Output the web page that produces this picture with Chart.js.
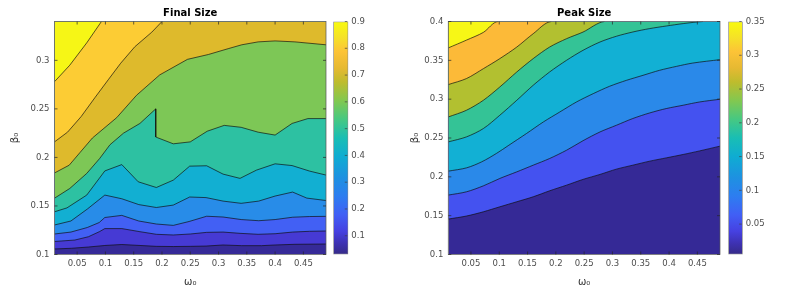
<!DOCTYPE html>
<html>
<head>
<meta charset="utf-8">
<script src="https://cdn.jsdelivr.net/npm/chart.js@4.4.1/dist/chart.umd.min.js"></script>
<style>
  body { margin: 0; background: #fff; }
  #wrap { position: relative; width: 806px; height: 291px; }
  canvas { position: absolute; top: 0; }
</style>
</head>
<body>
<div id="wrap">
  <canvas id="fs" width="330" height="291" style="left:0px"></canvas>
  <canvas id="fsBar" width="45" height="291" style="left:330px"></canvas>
  <canvas id="ps" width="326" height="291" style="left:400px"></canvas>
  <canvas id="psBar" width="60" height="291" style="left:726px"></canvas>
</div>
<script>
// ---------- Final Size : contour lines (omega0, beta0), levels 0.1 .. 0.9 ----------
var finalLevels = [0.1, 0.2, 0.3, 0.4, 0.5, 0.6, 0.7, 0.8, 0.9];
var finalXTicks = [0.05, 0.1, 0.15, 0.2, 0.25, 0.3, 0.35, 0.4, 0.45];
var finalYTicks = [0.1, 0.15, 0.2, 0.25, 0.3];
var finalBarTicks = [0.1, 0.2, 0.3, 0.4, 0.5, 0.6, 0.7, 0.8, 0.9];

var final01 = [[0.01,0.1057],[0.04,0.1064],[0.07,0.1077],[0.099,0.1093],[0.129,0.1103],[0.161,0.1093],[0.19,0.1084],[0.22,0.1082],[0.25,0.1084],[0.278,0.1087],[0.308,0.1098],[0.341,0.1091],[0.376,0.1091],[0.40,0.1098],[0.435,0.1105],[0.49,0.1108]];
var final02 = [[0.01,0.1134],[0.046,0.1149],[0.07,0.1183],[0.09,0.1237],[0.099,0.1267],[0.129,0.1267],[0.161,0.1235],[0.19,0.1208],[0.22,0.1201],[0.25,0.1211],[0.279,0.1228],[0.308,0.1231],[0.338,0.1218],[0.37,0.1208],[0.40,0.1214],[0.431,0.1231],[0.461,0.1239],[0.49,0.1242]];
var final03 = [[0.01,0.1211],[0.039,0.1231],[0.068,0.1278],[0.089,0.1329],[0.099,0.1381],[0.129,0.1403],[0.159,0.1345],[0.19,0.1314],[0.22,0.13],[0.248,0.134],[0.279,0.1394],[0.308,0.1386],[0.34,0.136],[0.371,0.1348],[0.40,0.136],[0.431,0.1384],[0.461,0.1391],[0.49,0.1393]];
var final04 = [[0.01,0.1304],[0.039,0.1345],[0.068,0.1468],[0.099,0.1612],[0.129,0.1574],[0.159,0.1514],[0.19,0.1484],[0.22,0.1509],[0.249,0.1592],[0.278,0.1586],[0.308,0.155],[0.34,0.1527],[0.371,0.155],[0.40,0.1602],[0.431,0.1643],[0.456,0.1581],[0.49,0.1556]];
var final05 = [[0.01,0.144],[0.032,0.148],[0.067,0.1612],[0.099,0.1861],[0.129,0.1926],[0.158,0.1749],[0.19,0.169],[0.22,0.1766],[0.249,0.191],[0.279,0.1914],[0.308,0.1828],[0.338,0.1784],[0.367,0.1869],[0.40,0.1934],[0.43,0.1916],[0.461,0.1859],[0.49,0.1818]];
var final06 = [[0.01,0.158],[0.037,0.168],[0.067,0.1835],[0.09,0.199],[0.108,0.213],[0.132,0.225],[0.161,0.235],[0.189,0.25],[0.189,0.221],[0.22,0.214],[0.25,0.216],[0.28,0.227],[0.31,0.233],[0.34,0.231],[0.37,0.226],[0.40,0.223],[0.43,0.235],[0.458,0.24],[0.49,0.24]];
var final07 = [[0.01,0.184],[0.036,0.192],[0.055,0.205],[0.077,0.22],[0.12,0.241],[0.155,0.264],[0.196,0.285],[0.245,0.301],[0.282,0.306],[0.317,0.312],[0.341,0.316],[0.37,0.319],[0.40,0.320],[0.435,0.319],[0.49,0.316]];
var final08 = [[0.01,0.216],[0.033,0.226],[0.057,0.242],[0.082,0.262],[0.105,0.28],[0.127,0.297],[0.152,0.314],[0.182,0.329],[0.2,0.34],[0.49,0.34]];
var final09 = [[0.01,0.278],[0.037,0.295],[0.067,0.318],[0.093,0.34],[0.49,0.34]];

// ---------- Peak Size : contour lines ----------
var peakXTicks = [0.05, 0.1, 0.15, 0.2, 0.25, 0.3, 0.35, 0.4, 0.45];
var peakYTicks = [0.1, 0.15, 0.2, 0.25, 0.3, 0.35, 0.4];
var peakBarTicks = [0.05, 0.1, 0.15, 0.2, 0.25, 0.3, 0.35];

var peak1 = [[0.01,0.1456],[0.042,0.1495],[0.072,0.155],[0.101,0.1614],[0.131,0.1679],[0.16,0.1743],[0.189,0.182],[0.219,0.1893],[0.248,0.1967],[0.278,0.2031],[0.307,0.2099],[0.336,0.215],[0.366,0.2202],[0.395,0.2244],[0.425,0.2288],[0.454,0.2334],[0.49,0.2395]];
var peak2 = [[0.01,0.1765],[0.042,0.1807],[0.072,0.1884],[0.101,0.1979],[0.131,0.2064],[0.16,0.215],[0.189,0.2236],[0.219,0.2343],[0.248,0.2465],[0.278,0.2578],[0.307,0.2664],[0.336,0.2751],[0.366,0.2823],[0.395,0.2879],[0.425,0.2922],[0.454,0.2964],[0.49,0.2999]];
var peak3 = [[0.01,0.2073],[0.0425,0.2116],[0.069,0.2193],[0.095,0.2301],[0.117,0.2407],[0.148,0.2557],[0.178,0.2707],[0.207,0.2835],[0.2365,0.2964],[0.266,0.3071],[0.295,0.3166],[0.325,0.3243],[0.354,0.3307],[0.383,0.3371],[0.413,0.3422],[0.442,0.3465],[0.49,0.3509]];
var peak4 = [[0.01,0.245],[0.042,0.2514],[0.072,0.2622],[0.101,0.2793],[0.131,0.2986],[0.16,0.3179],[0.189,0.335],[0.219,0.3501],[0.248,0.3629],[0.278,0.3736],[0.307,0.381],[0.336,0.3865],[0.366,0.3909],[0.395,0.3942],[0.425,0.3973],[0.46,0.4],[0.49,0.4]];
var peak5 = [[0.01,0.2771],[0.042,0.2857],[0.072,0.2986],[0.101,0.3157],[0.131,0.335],[0.16,0.3522],[0.189,0.3671],[0.219,0.3779],[0.248,0.3864],[0.286,0.4],[0.49,0.4]];
var peak6 = [[0.01,0.3188],[0.042,0.3265],[0.072,0.3393],[0.101,0.3522],[0.131,0.3671],[0.16,0.3843],[0.192,0.4],[0.49,0.4]];
var peak7 = [[0.01,0.366],[0.042,0.376],[0.072,0.386],[0.098,0.4],[0.49,0.4]];

// band fill colours, lowest band first
var finalColors = ['rgb(54,42,152)', 'rgb(70,58,212)', 'rgb(66,96,244)', 'rgb(40,140,232)', 'rgb(18,175,210)',
  'rgb(45,193,162)', 'rgb(125,199,86)', 'rgb(222,186,44)', 'rgb(252,204,52)', 'rgb(246,246,22)'];
var peakColors = ['rgb(53,41,150)', 'rgb(68,82,240)', 'rgb(42,137,233)', 'rgb(18,176,212)', 'rgb(52,195,150)',
  'rgb(178,192,48)', 'rgb(252,186,56)', 'rgb(247,247,22)'];

// parula-like colormap for the colorbars
var parulaStops = [
  [0.00, 'rgb(53,42,135)'], [0.05, 'rgb(62,50,180)'], [0.10, 'rgb(70,65,225)'], [0.17, 'rgb(65,95,245)'],
  [0.25, 'rgb(45,125,240)'], [0.33, 'rgb(30,145,225)'], [0.42, 'rgb(15,172,210)'], [0.50, 'rgb(25,190,180)'],
  [0.58, 'rgb(70,200,130)'], [0.66, 'rgb(130,200,80)'], [0.74, 'rgb(190,188,45)'], [0.80, 'rgb(230,185,50)'],
  [0.87, 'rgb(252,195,55)'], [0.93, 'rgb(245,225,40)'], [1.00, 'rgb(248,250,15)']
];

var FONT = 'DejaVu Sans';
var TICK_COLOR = '#4d4d4d';
var LINE_COLOR = 'rgba(15,15,15,0.85)';

function fmt(v) {
  return String(+v.toFixed(3));
}

function toPoints(arr) {
  return arr.map(function(p) { return {x: p[0], y: p[1]}; });
}

// axes box + inward tick marks, MATLAB style
var boxPlugin = {
  id: 'box',
  afterDraw: function(chart) {
    var a = chart.chartArea;
    var ctx = chart.ctx;
    var xs = chart.scales.x, ys = chart.scales.y;
    ctx.save();
    ctx.strokeStyle = 'rgba(90,90,90,0.9)';
    ctx.lineWidth = 0.8;
    ctx.strokeRect(a.left, a.top, a.right - a.left, a.bottom - a.top);
    ctx.strokeStyle = '#262626';
    ctx.lineWidth = 0.7;
    ctx.beginPath();
    xs.ticks.forEach(function(t) {
      var px = xs.getPixelForValue(t.value);
      ctx.moveTo(px, a.bottom); ctx.lineTo(px, a.bottom - 3);
      ctx.moveTo(px, a.top); ctx.lineTo(px, a.top + 3);
    });
    ys.ticks.forEach(function(t) {
      var py = ys.getPixelForValue(t.value);
      ctx.moveTo(a.left, py); ctx.lineTo(a.left + 3, py);
      ctx.moveTo(a.right, py); ctx.lineTo(a.right - 3, py);
    });
    ctx.stroke();
    ctx.restore();
  }
};

function contourChart(id, o) {
  var n = o.curves.length;
  var datasets = [{
    data: toPoints([[o.xMin, o.yMin], [o.xMax, o.yMin]]),
    fill: 'end',
    backgroundColor: o.colors[0],
    borderWidth: 0,
    pointRadius: 0,
    order: n + 1
  }];
  o.curves.forEach(function(curve, i) {
    datasets.push({
      data: toPoints(curve),
      fill: 'end',
      backgroundColor: o.colors[i + 1],
      borderColor: LINE_COLOR,
      borderWidth: 0.8,
      pointRadius: 0,
      tension: o.tension,
      order: n - i,
      segment: {
        // no contour line along the top edge of the axes
        borderColor: function(ctx) {
          return (ctx.p0.parsed.y >= o.yMax - 1e-9 && ctx.p1.parsed.y >= o.yMax - 1e-9) ? 'rgba(0,0,0,0)' : undefined;
        }
      }
    });
  });

  return new Chart(document.getElementById(id), {
    type: 'scatter',
    data: { datasets: datasets },
    plugins: [boxPlugin],
    options: {
      responsive: false,
      animation: false,
      events: [],
      devicePixelRatio: 1,
      showLine: true,
      layout: { padding: { left: 0, right: o.padRight, top: 0, bottom: 0 } },
      plugins: {
        legend: { display: false },
        tooltip: { enabled: false },
        title: {
          display: true,
          text: o.title,
          fullSize: false,
          color: '#000',
          font: { family: FONT, size: 10, weight: 'bold' },
          padding: { top: 7, bottom: 2.5 }
        }
      },
      scales: {
        x: {
          type: 'linear',
          min: o.xMin,
          max: o.xMax,
          afterBuildTicks: function(s) { s.ticks = o.xTicks.map(function(v) { return {value: v}; }); },
          afterFit: function(s) { s.height = 36.5; },
          grid: { display: false, drawTicks: false },
          border: { display: false },
          ticks: { padding: 4, color: TICK_COLOR, font: { family: FONT, size: 8.5 }, callback: fmt, autoSkip: false, maxRotation: 0 },
          title: { display: true, text: 'ω₀', color: '#333', font: { family: FONT, size: 10 }, padding: { top: 0, bottom: 3 } }
        },
        y: {
          type: 'linear',
          min: o.yMin,
          max: o.yMax,
          afterBuildTicks: function(s) { s.ticks = o.yTicks.map(function(v) { return {value: v}; }); },
          afterFit: function(s) { s.width = o.yAxisWidth; },
          grid: { display: false, drawTicks: false },
          border: { display: false },
          ticks: { padding: 5, color: TICK_COLOR, font: { family: FONT, size: 8.5 }, callback: fmt, autoSkip: false },
          title: { display: true, text: 'β₀', color: '#333', font: { family: FONT, size: 10 }, padding: { top: o.yTitleOffset, bottom: 0 } }
        }
      }
    }
  });
}

function colorBar(id, o) {
  return new Chart(document.getElementById(id), {
    type: 'bar',
    data: {
      labels: ['c'],
      datasets: [{
        data: [[o.min, o.max]],
        backgroundColor: function(ctx) {
          var a = ctx.chart.chartArea;
          if (!a) return null;
          var g = ctx.chart.ctx.createLinearGradient(0, a.bottom, 0, a.top);
          parulaStops.forEach(function(s) { g.addColorStop(s[0], s[1]); });
          return g;
        },
        borderColor: '#8c8c8c',
        borderWidth: 1,
        borderSkipped: false,
        barPercentage: 1,
        categoryPercentage: 1
      }]
    },
    plugins: [{
      id: 'barTicks',
      afterDraw: function(chart) {
        var a = chart.chartArea, ys = chart.scales.y, ctx = chart.ctx;
        ctx.save();
        ctx.strokeStyle = '#404040';
        ctx.lineWidth = 0.7;
        ctx.beginPath();
        ys.ticks.forEach(function(t) {
          var py = ys.getPixelForValue(t.value);
          ctx.moveTo(a.right - 1, py); ctx.lineTo(a.right - 3.5, py);
        });
        ctx.stroke();
        ctx.restore();
      }
    }],
    options: {
      responsive: false,
      animation: false,
      events: [],
      devicePixelRatio: 1,
      layout: { padding: { left: o.padLeft, right: 0, top: 21.5, bottom: 36.5 } },
      plugins: { legend: { display: false }, tooltip: { enabled: false } },
      scales: {
        x: { display: false },
        y: {
          position: 'right',
          min: o.min,
          max: o.max,
          afterBuildTicks: function(s) { s.ticks = o.ticks.map(function(v) { return {value: v}; }); },
          afterFit: function(s) { s.width = o.axisWidth; },
          grid: { display: false, drawTicks: false },
          border: { display: false },
          ticks: { padding: 3, color: TICK_COLOR, font: { family: FONT, size: 8.5 }, callback: fmt, autoSkip: false }
        }
      }
    }
  });
}

contourChart('fs', {
  title: 'Final Size',
  xMin: 0.01, xMax: 0.49, yMin: 0.1, yMax: 0.34,
  xTicks: finalXTicks, yTicks: finalYTicks,
  curves: [final01, final02, final03, final04, final05, final06, final07, final08, final09],
  colors: finalColors,
  tension: 0,
  yAxisWidth: 54.5,
  yTitleOffset: 9,
  padRight: 4
});

contourChart('ps', {
  title: 'Peak Size',
  xMin: 0.01, xMax: 0.49, yMin: 0.1, yMax: 0.4,
  xTicks: peakXTicks, yTicks: peakYTicks,
  curves: [peak1, peak2, peak3, peak4, peak5, peak6, peak7],
  colors: peakColors,
  tension: 0.3,
  yAxisWidth: 48.3,
  yTitleOffset: 9,
  padRight: 6
});

colorBar('fsBar', { min: 0.03, max: 0.9, ticks: finalBarTicks, padLeft: 3.3, axisWidth: 26.7 });
colorBar('psBar', { min: 0.005, max: 0.35, ticks: peakBarTicks, padLeft: 2.3, axisWidth: 43.3 });
</script>
</body>
</html>
